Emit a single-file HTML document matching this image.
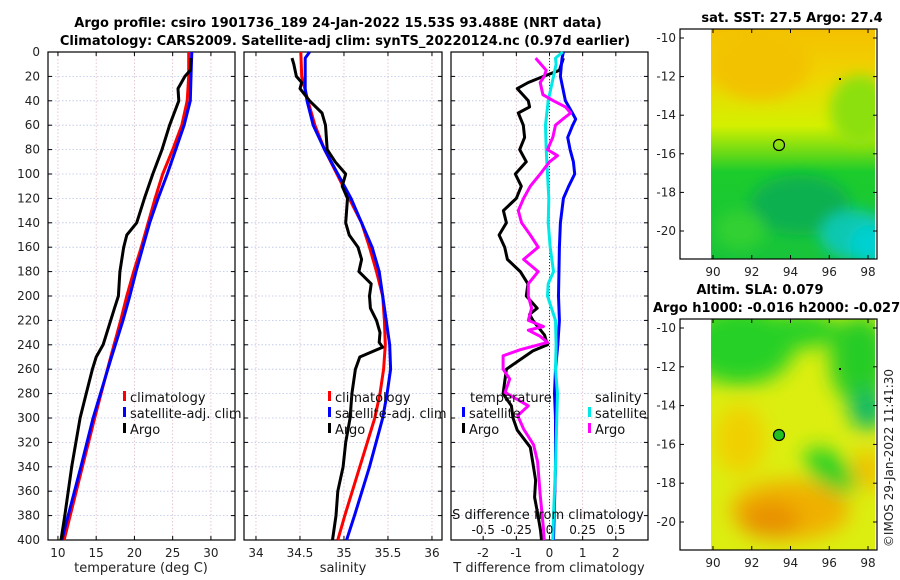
<!DOCTYPE html>
<html><head><meta charset="utf-8"><style>
html,body{margin:0;padding:0;background:#fff;width:900px;height:580px;overflow:hidden}
svg{display:block;font-family:"DejaVu Sans","Liberation Sans",sans-serif}
</style></head><body>
<svg id="chart" width="900" height="580" viewBox="0 0 900 580" xmlns="http://www.w3.org/2000/svg">
<defs>
<filter id="blur1" x="-20%" y="-20%" width="140%" height="140%"><feGaussianBlur stdDeviation="7"/></filter>
<filter id="blur2" x="-20%" y="-20%" width="140%" height="140%"><feGaussianBlur stdDeviation="10"/></filter>
<clipPath id="clipTop"><rect x="711" y="29" width="164" height="230"/></clipPath>
<clipPath id="clipBot"><rect x="711" y="319" width="164" height="231"/></clipPath>
<linearGradient id="sstGrad" x1="0" y1="0" x2="0" y2="1">
<stop offset="0" stop-color="#f4c000"/><stop offset="0.2" stop-color="#f0d400"/><stop offset="0.42" stop-color="#d4f000"/><stop offset="0.55" stop-color="#60d818"/><stop offset="0.62" stop-color="#1ccc2c"/><stop offset="1" stop-color="#18c43a"/>
</linearGradient>
</defs>
<g font-weight="bold" font-size="13" text-anchor="middle" fill="#000">
<text x="338" y="27">Argo profile: csiro 1901736_189 24-Jan-2022 15.53S 93.488E (NRT data)</text>
<text x="345" y="45">Climatology: CARS2009. Satellite-adj clim: synTS_20220124.nc (0.97d earlier)</text>
<text x="792" y="22">sat. SST: 27.5 Argo: 27.4</text>
<text x="760" y="294">Altim. SLA: 0.079</text>
<text x="653" y="312" text-anchor="start">Argo h1000: -0.016 h2000: -0.027</text>
</g>
<g id="maps">
<g clip-path="url(#clipTop)">
<rect x="711" y="29" width="164" height="230" fill="url(#sstGrad)"/>
<g filter="url(#blur1)">
<ellipse cx="760" cy="65" rx="50" ry="35" fill="#f2c200"/>
<ellipse cx="860" cy="110" rx="30" ry="35" fill="#8ce010"/>
<ellipse cx="800" cy="205" rx="50" ry="30" fill="#10b050"/>
<ellipse cx="855" cy="235" rx="35" ry="25" fill="#10c8b0"/>
<ellipse cx="870" cy="245" rx="20" ry="20" fill="#00d0d0"/>
<ellipse cx="740" cy="230" rx="25" ry="20" fill="#30d030"/>
</g>
</g>
<g clip-path="url(#clipBot)">
<rect x="711" y="319" width="164" height="231" fill="#dcee10"/>
<g filter="url(#blur2)">
<ellipse cx="740" cy="345" rx="55" ry="40" fill="#28d028"/>
<ellipse cx="800" cy="330" rx="40" ry="18" fill="#28d028"/>
<ellipse cx="860" cy="360" rx="30" ry="45" fill="#28cc28"/>
<ellipse cx="868" cy="410" rx="18" ry="20" fill="#10b868"/>
<ellipse cx="830" cy="470" rx="30" ry="16" fill="#28d028" transform="rotate(40 830 470)"/>
<ellipse cx="790" cy="510" rx="60" ry="30" fill="#f0b000"/>
<ellipse cx="770" cy="520" rx="30" ry="18" fill="#e89000"/>
<ellipse cx="740" cy="440" rx="25" ry="35" fill="#f0d000"/>
<ellipse cx="868" cy="470" rx="15" ry="20" fill="#f0c000"/>
</g>
</g>
<rect x="680" y="29" width="197" height="230" fill="none" stroke="#000" stroke-width="1.2"/>
<rect x="680" y="319" width="197" height="231" fill="none" stroke="#000" stroke-width="1.2"/>
<circle cx="779" cy="145" r="5.5" fill="none" stroke="#000" stroke-width="1.2"/>
<rect x="839" y="78" width="2" height="2" fill="#000"/>
<circle cx="779" cy="435" r="5.5" fill="#20c020" stroke="#000" stroke-width="1.2"/>
<rect x="839" y="368" width="2" height="2" fill="#000"/>
</g>
<g id="axes"></g>
<text x="897" y="458" font-size="12" fill="#222" text-anchor="middle" transform="rotate(-90 897 458)" dy="-4">©IMOS 29-Jan-2022 11:41:30</text>
</svg>
<script>
const NS='http://www.w3.org/2000/svg';
const depthTicks=[0,20,40,60,80,100,120,140,160,180,200,220,240,260,280,300,320,340,360,380,400];
const tempTicks=[10,15,20,25,30];
const salTicks=[34,34.5,35,35.5,36];
const tdiffTicks=[-2,-1,0,1,2];
const sdiffTickLabels=['-0.5','-0.25','0','0.25','0.5'];
const sdiffTicks=[-0.5,-0.25,0,0.25,0.5];
const mapLonTicks=[90,92,94,96,98];
const mapLatTicks=[-10,-12,-14,-16,-18,-20];

const tClimDepth=[0,20,40,60,80,100,120,140,160,180,200,220,250,300,340,400];
const tClim=[27.1,27.1,26.9,26.2,25.0,23.7,22.7,21.8,20.9,19.9,19.0,18.2,16.9,14.8,13.2,10.8];
const tSatDepth=[0,20,40,60,80,100,120,140,160,180,200,220,250,300,340,400];
const tSat=[27.5,27.4,27.3,26.5,25.4,24.3,23.1,22.0,21.1,20.2,19.4,18.5,17.0,14.6,13.0,10.5];
const tArgoDepth=[5,15,20,30,40,50,60,80,90,100,120,140,150,160,180,200,210,240,250,260,280,300,340,380,400];
const tArgo=[27.4,27.3,26.6,25.7,25.8,25.2,24.6,23.6,23.0,22.4,21.3,20.3,19.0,18.6,18.1,17.9,17.4,15.9,15.0,14.5,13.7,12.9,11.8,10.9,10.4];

const sClimDepth=[0,20,40,60,80,100,120,140,160,180,200,220,240,260,280,300,340,380,400];
const sClim=[34.51,34.52,34.59,34.67,34.78,34.92,35.06,35.20,35.29,35.37,35.44,35.46,35.47,35.45,35.41,35.35,35.18,35.01,34.93];
const sSatDepth=[0,5,10,30,40,60,80,100,120,140,160,180,200,240,260,280,300,340,380,400];
const sSat=[34.61,34.56,34.56,34.56,34.58,34.65,34.78,34.93,35.08,35.20,35.32,35.40,35.44,35.52,35.53,35.49,35.44,35.29,35.12,35.03];
const sArgoDepth=[5,10,20,25,30,40,50,60,80,90,100,110,120,140,150,160,170,180,190,200,210,220,230,238,242,250,260,280,300,320,340,360,380,400];
const sArgo=[34.41,34.43,34.46,34.52,34.50,34.61,34.75,34.79,34.81,34.90,35.02,34.98,35.04,35.02,35.06,35.16,35.20,35.17,35.31,35.29,35.30,35.37,35.41,35.40,35.44,35.18,35.13,35.09,35.07,35.02,34.99,34.93,34.91,34.87];

const dTSatDepth=[0,5,10,20,40,50,55,60,70,80,90,100,110,120,140,160,200,220,240,260,280,300,340,400];
const dTSat=[0.42,0.38,0.36,0.33,0.48,0.69,0.79,0.70,0.55,0.62,0.72,0.76,0.58,0.42,0.33,0.3,0.27,0.3,0.25,0.18,0.15,0.18,0.18,0.12];
const dTArgoDepth=[5,15,20,25,30,40,45,50,60,70,80,90,100,110,120,130,140,150,160,170,180,190,200,210,215,220,232,240,245,260,280,290,300,310,324,337,351,365,378,392,400];
const dTArgo=[0.42,0.3,-0.18,-0.64,-0.97,-0.64,-0.6,-0.94,-0.79,-0.75,-0.9,-0.7,-1.03,-0.85,-1.0,-1.39,-1.3,-1.52,-1.35,-1.27,-0.88,-0.65,-0.7,-0.37,-0.6,-0.5,-0.15,-0.06,-0.5,-1.3,-1.4,-1.15,-1.1,-0.97,-0.58,-0.5,-0.42,-0.45,-0.36,-0.27,-0.24];
const dSSatDepth=[0,5,10,20,40,60,80,100,120,140,160,180,190,200,220,240,260,280,300,340,380,400];
const dSSat=[0.1,0.045,0.05,0.03,-0.01,-0.03,-0.025,-0.015,-0.005,-0.01,0.005,0.03,-0.01,-0.015,0.045,0.05,0.045,0.06,0.055,0.045,0.03,0.025];
const dSArgoDepth=[5,15,20,25,35,40,45,50,55,60,70,80,85,90,100,110,120,130,140,150,160,170,180,190,200,210,220,225,228,233,238,244,249,260,268,279,290,298,309,322,336,363,391,400];
const dSArgo=[-0.105,-0.025,-0.04,-0.07,-0.05,0.03,0.12,0.16,0.1,0.045,0.025,-0.015,0.06,0.0,-0.07,-0.145,-0.195,-0.235,-0.21,-0.145,-0.085,-0.195,-0.085,-0.16,-0.16,-0.135,-0.16,-0.045,-0.16,-0.07,-0.015,-0.22,-0.35,-0.35,-0.3,-0.335,-0.16,-0.24,-0.195,-0.12,-0.09,-0.07,-0.045,-0.04];

const Y0=52,Y1=540;
const yD=d=>Y0+(d/400)*(Y1-Y0);
const lin=(d0,d1,r0,r1)=>v=>r0+(v-d0)/(d1-d0)*(r1-r0);
const panels=[
 {x0:48,x1:235,sx:lin(8.7,33.15,48,235),name:'temperature-panel'},
 {x0:244,x1:442,sx:lin(33.864,36.114,244,442),name:'salinity-panel'},
 {x0:451,x1:648,sx:lin(-2.97,2.97,451,648),name:'difference-panel'}
];
const sDiffX=lin(-0.7425,0.7425,451,648);
const lonX=lin(90,98,713,868);
const latYTop=lin(-10,-20,38,231);
const latYBot=lin(-10,-20,328,522);
const axes=document.getElementById('axes');
function el(tag,attrs,parent){const e=document.createElementNS(NS,tag);for(const k in attrs)e.setAttribute(k,attrs[k]);(parent||axes).appendChild(e);return e;}
function txt(s,attrs,parent){const e=el('text',attrs,parent);e.textContent=s;return e;}

panels.forEach((p,i)=>{
 const g=el('g',{});
 
 
 depthTicks.forEach(d=>{if(d>0&&d<400)el('line',{x1:p.x0,x2:p.x1,y1:yD(d),y2:yD(d),stroke:'#b8c4e8','stroke-width':0.8,'stroke-dasharray':'1.5,2'},g);});
 const xt=i===0?tempTicks:i===1?salTicks:tdiffTicks;
 xt.forEach(v=>{const x=p.sx(v);if(x>p.x0+1&&x<p.x1-1)el('line',{x1:x,x2:x,y1:Y0,y2:Y1,stroke:'#e0b8c0','stroke-width':0.8,'stroke-dasharray':'1.5,2'},g);});
 xt.forEach(v=>{const x=p.sx(v);
  el('line',{x1:x,x2:x,y1:Y1,y2:Y1-4,stroke:'#000'},g);el('line',{x1:x,x2:x,y1:Y0,y2:Y0+4,stroke:'#000'},g);
  const t=txt(String(v),{x:x,y:Y1+17,'font-size':12,'text-anchor':'middle',fill:'#222'},g);
  
  
 });
 depthTicks.forEach(d=>{el('line',{x1:p.x0,x2:p.x0+4,y1:yD(d),y2:yD(d),stroke:'#000'},g);el('line',{x1:p.x1,x2:p.x1-4,y1:yD(d),y2:yD(d),stroke:'#000'},g);
  if(i===0){const t=txt(String(d),{x:p.x0-8,y:yD(d)+4,'font-size':12,'text-anchor':'end',fill:'#222'},g);
   
   }
 });
 el('rect',{x:p.x0,y:Y0,width:p.x1-p.x0,height:Y1-Y0,fill:'none',stroke:'#000','stroke-width':1.2},g);
 p.g=g;
});

function line(g,depths,vals,sx,color,name){
 const d=depths.map((dp,k)=>(k?'L':'M')+sx(vals[k]).toFixed(1)+','+yD(dp).toFixed(1)).join('');
 const e=el('path',{d:d,fill:'none',stroke:color,'stroke-width':3,'stroke-linejoin':'round'},g);
 
 
}
const P=panels;
line(P[0].g,tClimDepth,tClim,P[0].sx,'#ff0000','temperature-climatology-line');
line(P[0].g,tSatDepth,tSat,P[0].sx,'#0000ff','temperature-satellite-line');
line(P[0].g,tArgoDepth,tArgo,P[0].sx,'#000','temperature-argo-line');
line(P[1].g,sClimDepth,sClim,P[1].sx,'#ff0000','salinity-climatology-line');
line(P[1].g,sSatDepth,sSat,P[1].sx,'#0000ff','salinity-satellite-line');
line(P[1].g,sArgoDepth,sArgo,P[1].sx,'#000','salinity-argo-line');
el('line',{x1:P[2].sx(0),x2:P[2].sx(0),y1:Y0,y2:Y1,stroke:'#333','stroke-width':1,'stroke-dasharray':'1,2'},P[2].g);
line(P[2].g,dTArgoDepth,dTArgo,P[2].sx,'#000','temperature-argo-diff-line');
line(P[2].g,dTSatDepth,dTSat,P[2].sx,'#0000ff','temperature-satellite-diff-line');
line(P[2].g,dSSatDepth,dSSat,sDiffX,'#00e8e8','salinity-satellite-diff-line');
line(P[2].g,dSArgoDepth,dSArgo,sDiffX,'#ff00ff','salinity-argo-diff-line');

function legend(g,x,items,name){
 const lg=el('g',{},g);
 
 
 items.forEach((it,k)=>{const y=401+k*16;
  if(it[1])el('rect',{x:x,y:y-10,width:3,height:10,fill:it[1]},lg);
  txt(it[0],{x:x+(it[1]?7:0),y:y+1,'font-size':13,fill:'#111'},lg);});
}
legend(P[0].g,123,[['climatology','#ff0000'],['satellite-adj. clim','#0000ff'],['Argo','#000']],'temperature-legend');
legend(P[1].g,328,[['climatology','#ff0000'],['satellite-adj. clim','#0000ff'],['Argo','#000']],'salinity-legend');
legend(P[2].g,470,[['temperature',null]],'diff-legend-temperature-header');
legend(P[2].g,462,[['',null],['satellite','#0000ff'],['Argo','#000']],'diff-legend-temperature');
legend(P[2].g,595,[['salinity',null]],'diff-legend-salinity-header');
legend(P[2].g,588,[['',null],['satellite','#00e8e8'],['Argo','#ff00ff']],'diff-legend-salinity');

const sl=txt('S difference from climatology',{x:548,y:519,'font-size':13,'text-anchor':'middle',fill:'#111'});


sdiffTicks.forEach((v,k)=>{const t=txt(sdiffTickLabels[k],{x:sDiffX(v),y:534,'font-size':12,'text-anchor':'middle',fill:'#111'});
 
 });
[['temperature (deg C)',141,'temperature-axis-title'],['salinity',343,'salinity-axis-title'],['T difference from climatology',549,'t-diff-axis-title']].forEach(a=>{
 const t=txt(a[0],{x:a[1],y:572,'font-size':13,'text-anchor':'middle',fill:'#222'});
 
 });

[[latYTop,259],[latYBot,550]].forEach((m,mi)=>{
 const ybot=m[1],ytop=mi?319:29;
 mapLonTicks.forEach(v=>{const x=lonX(v);el('line',{x1:x,x2:x,y1:ybot,y2:ybot-4,stroke:'#000'});el('line',{x1:x,x2:x,y1:ytop,y2:ytop+4,stroke:'#000'});
  const t=txt(String(v),{x:x,y:ybot+17,'font-size':12,'text-anchor':'middle',fill:'#222'});
  
  });
 mapLatTicks.forEach(v=>{const y=m[0](v);el('line',{x1:680,x2:684,y1:y,y2:y,stroke:'#000'});el('line',{x1:877,x2:873,y1:y,y2:y,stroke:'#000'});
  const t=txt(String(v),{x:676,y:y+4,'font-size':12,'text-anchor':'end',fill:'#222'});
  
  });
});
</script>
</body></html>
